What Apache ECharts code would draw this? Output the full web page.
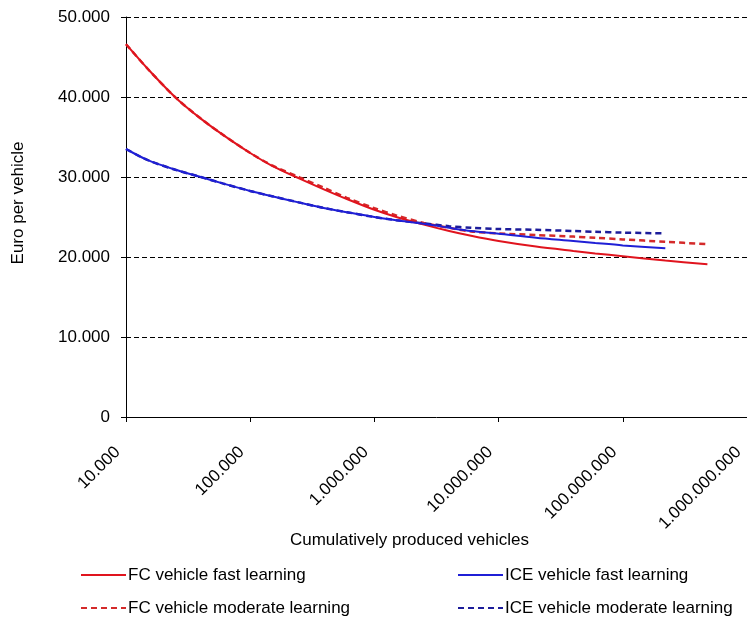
<!DOCTYPE html>
<html>
<head>
<meta charset="utf-8">
<script src="https://cdn.jsdelivr.net/npm/echarts@6/dist/echarts.min.js"></script>
<style>
html,body{margin:0;padding:0;background:#fff;}
#chart{width:747px;height:626px;}
</style>
</head>
<body>
<div id="chart"></div>
<script>
// Cumulatively produced vehicles (x positions)
const volumes = [1e4, 1.5e4, 2.5e4, 4e4, 6e4, 1e5, 1.5e5, 2.5e5, 4e5, 6e5, 1e6, 1.5e6, 2.5e6, 4e6, 6e6, 1e7, 2e7, 4e7, 6e7, 1e8, 2.2e8, 4.8e8];

// Euro per vehicle
const fcFast = [46600, 43500, 39950, 37300, 35300, 33000, 31400, 29800, 28400, 27250, 25900, 25000, 24050, 23250, 22650, 22000, 21300, 20750, 20450, 20100, 19550, 19100];
const fcModerate = [46600, 43500, 39950, 37300, 35300, 33000, 31450, 29950, 28600, 27400, 26100, 25200, 24250, 23650, 23200, 22950, 22750, 22550, 22400, 22200, 21900, 21600];
const iceFast = [33500, 32100, 30900, 30000, 29200, 28250, 27600, 26800, 26100, 25600, 25000, 24600, 24150, 23650, 23250, 22900, 22400, 22000, 21750, 21450, 21100, null];
const iceModerate = [33500, 32100, 30900, 30000, 29200, 28250, 27600, 26800, 26100, 25600, 25000, 24600, 24200, 23850, 23650, 23500, 23400, 23250, 23150, 23050, 22950, null];

const seriesNames = ['FC vehicle fast learning', 'FC vehicle moderate learning', 'ICE vehicle fast learning', 'ICE vehicle moderate learning'];
const yTicks = [0, 10000, 20000, 30000, 40000, 50000];

function pairs(vals) {
  const out = [];
  vals.forEach((v, i) => { if (v !== null) out.push([volumes[i], v]); });
  return out;
}
function fmt(n) {
  return String(Math.round(n)).replace(/\B(?=(\d{3})+(?!\d))/g, '.');
}

const FONT = "'Liberation Sans', Arial, sans-serif";
const legendCommon = {
  orient: 'vertical', top: 565, padding: 0,
  itemWidth: 45, itemHeight: 14, itemGap: 13,
  itemStyle: {opacity: 0},
  textStyle: {fontSize: 17, color: '#000', fontFamily: FONT, lineHeight: 20, padding: [0, 0, 0, -3]}
};
const chart = echarts.init(document.getElementById('chart'), null, {renderer: 'canvas'});
chart.setOption({
  animation: false,
  backgroundColor: '#ffffff',
  textStyle: {fontFamily: FONT, color: '#000'},
  grid: {left: 126, right: -2, top: 17, bottom: 209, containLabel: false},
  xAxis: {
    type: 'log',
    logBase: 10,
    min: 1e4,
    max: 1e9,
    name: 'Cumulatively produced vehicles',
    nameLocation: 'middle',
    nameGap: 115,
    nameMoveOverlap: false,
    nameTextStyle: {fontSize: 17, color: '#000', fontFamily: FONT, padding: [0, 54, 0, 0]},
    axisLine: {show: true, lineStyle: {color: '#000', width: 1}},
    axisTick: {show: true, length: 5, lineStyle: {color: '#000'}},
    minorTick: {show: false},
    splitLine: {show: false},
    axisLabel: {
      rotate: 45, margin: 24, fontSize: 17, color: '#000', fontFamily: FONT,
      padding: [0, 12, 0, 0],
      showMinLabel: true, showMaxLabel: true,
      formatter: v => fmt(v)
    }
  },
  yAxis: {
    type: 'value',
    min: 0, max: 50000, interval: 10000,
    name: 'Euro per vehicle',
    nameLocation: 'middle',
    nameGap: 99,
    nameRotate: 90,
    nameMoveOverlap: false,
    nameTextStyle: {fontSize: 17, color: '#000', fontFamily: FONT, padding: [0, 0, 0, 28]},
    axisLine: {show: true, lineStyle: {color: '#000', width: 1}},
    axisTick: {show: true, length: 5, lineStyle: {color: '#000'}},
    splitLine: {show: true, lineStyle: {color: '#000', width: 1, type: [5, 3]}},
    axisLabel: {margin: 16, fontSize: 17, color: '#000', fontFamily: FONT, formatter: v => fmt(v)}
  },
  legend: [
    Object.assign({data: [seriesNames[0], seriesNames[1]], left: 80}, legendCommon),
    Object.assign({data: [seriesNames[2], seriesNames[3]], left: 457}, legendCommon)
  ],
  series: [
    {name: seriesNames[1], type: 'line', data: pairs(fcModerate), showSymbol: false, symbol: 'none', smooth: 0.3,
     lineStyle: {color: '#d42a2a', width: 2.5, type: [6, 4]}, itemStyle: {color: '#d42a2a'}, z: 2},
    {name: seriesNames[3], type: 'line', data: pairs(iceModerate), showSymbol: false, symbol: 'none', smooth: 0.3,
     lineStyle: {color: '#1c1c9a', width: 2.5, type: [6, 4]}, itemStyle: {color: '#1c1c9a'}, z: 2},
    {name: seriesNames[0], type: 'line', data: pairs(fcFast), showSymbol: false, symbol: 'none', smooth: 0.3,
     lineStyle: {color: '#e0141e', width: 2}, itemStyle: {color: '#e0141e'}, z: 3},
    {name: seriesNames[2], type: 'line', data: pairs(iceFast), showSymbol: false, symbol: 'none', smooth: 0.3,
     lineStyle: {color: '#1f1fd6', width: 2}, itemStyle: {color: '#1f1fd6'}, z: 3}
  ]
});
</script>
</body>
</html>
